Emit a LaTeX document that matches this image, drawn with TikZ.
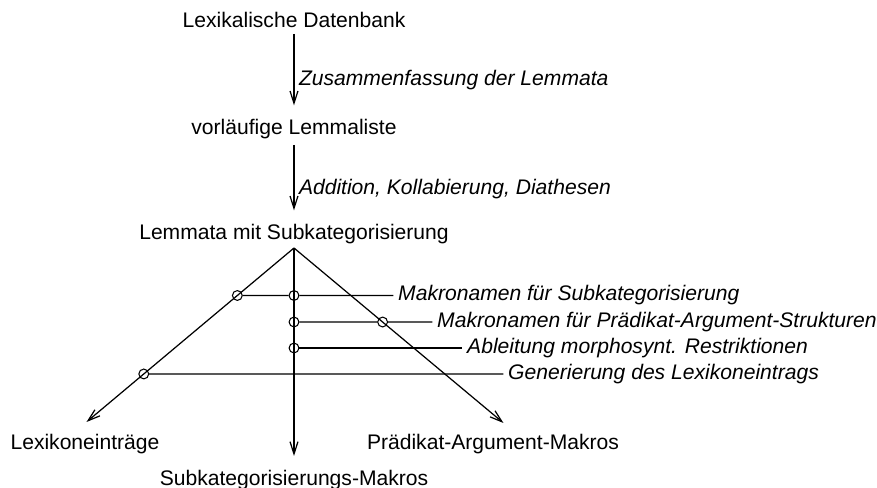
\documentclass[tikz,border=0pt]{standalone}
\usepackage{fontspec}
\setmainfont{Liberation Sans}
\usepackage{tikz}
\usetikzlibrary{arrows.meta, positioning, calc}
\tikzset{
  term/.style={font=\fontsize{12}{14}\selectfont, inner sep=3pt, anchor=base},
  steplabel/.style={font=\fontsize{12}{14}\selectfont\itshape, inner sep=2.5pt, anchor=west},
  knot/.style={circle, draw, minimum size=5.6pt, inner sep=0pt, line width=0.6pt},
  arrow/.style={-{Straight Barb[length=7pt,width=4.5pt]}, line width=0.7pt},
  line/.style={line width=0.7pt}
}

\begin{document}
\begin{tikzpicture}
  \useasboundingbox (-5.88,-4.80) rectangle (11.66,4.96);

  % Chain of lexicon stages
  \node[term] (datenbank)  at (0,4.40) {Lexikalische Datenbank};
  \node[term] (lemmaliste) at (0,2.26) {vorläufige Lemmaliste};
  \node[term] (subkat)     at (0,0.16) {Lemmata mit Subkategorisierung};

  \draw[arrow, shorten >=5pt] (datenbank) -- node[steplabel, pos=0.58] (zusammen) {Zusammenfassung der Lemmata} (lemmaliste);
  \draw[arrow, shorten >=5pt] (lemmaliste) -- node[steplabel, pos=0.6] (addition) {Addition, Kollabierung, Diathesen} (subkat);

  % Fan of outputs
  \coordinate (apex)     at (0,0);
  \coordinate (lexend)   at (-4.15,-3.48);
  \coordinate (subend)   at (0,-4.16);
  \coordinate (praedend) at (4.19,-3.50);
  \draw[arrow] (apex) -- (lexend);
  \draw[arrow] (apex) -- (subend);
  \draw[arrow] (apex) -- (praedend);

  \node[term] (lexikon)  at (-4.18,-4.04) {Lexikoneinträge};
  \node[term] (praedmak) at (3.98,-4.04)  {Prädikat-Argument-Makros};
  \node[term] (subkmak)  at (0,-4.76)     {Subkategorisierungs-Makros};

  % Junction circles
  \node[knot] (k1) at ($(apex)!0.273!(lexend)$) {};
  \node[knot] (k2) at (0,-0.95) {};
  \node[knot] (k3) at (0,-1.48) {};
  \node[knot] (k4) at ($(apex)!0.423!(praedend)$) {};
  \node[knot] (k5) at (0,-2.00) {};
  \node[knot] (k6) at ($(apex)!0.724!(lexend)$) {};

  % Step labels
  \node[steplabel] (mksub)  at (1.99,-0.95) {Makronamen für Subkategorisierung};
  \node[steplabel] (mkpa)   at (2.77,-1.48) {Makronamen für Prädikat-Argument-Strukturen};
  \node[steplabel] (ableit) at (3.37,-2.00) {Ableitung morphosynt. Restriktionen};
  \node[steplabel] (gener)  at (4.19,-2.52) {Generierung des Lexikoneintrags};

  \draw[line] (k1) -- (k2) -- (mksub);
  \draw[line] (k3) -- (k4) -- (mkpa);
  \draw[line] (k5) -- (ableit);
  \draw[line] (k6) -- (gener);
\end{tikzpicture}
\end{document}
